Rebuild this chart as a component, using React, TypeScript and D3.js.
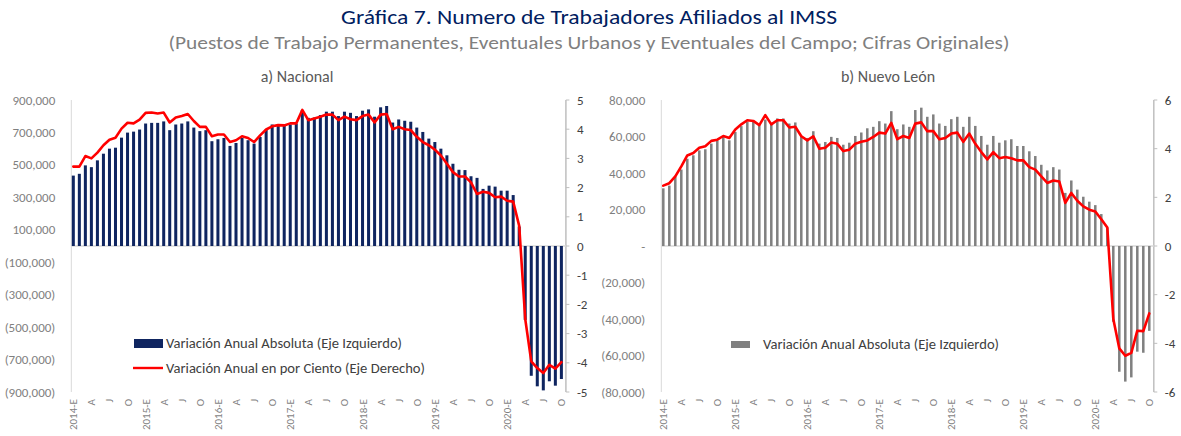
import React from 'react';
import * as d3 from 'd3';

// Meses: 2014-E ... 2020-O
const years = [2014, 2015, 2016, 2017, 2018, 2019, 2020];
const monthCodes = ['E', 'F', 'M', 'A', 'M', 'J', 'J', 'A', 'S', 'O', 'N', 'D'];
const lastMonth2020 = 10;
const tickMonths: Record<number, string> = { 0: 'E', 3: 'A', 6: 'J', 9: 'O' };

// a) Nacional, variación anual absoluta (miles de trabajadores)
const nacionalAbs = [
  434, 445, 497, 486, 528, 569, 600, 606, 668, 699, 705, 718,
  755, 759, 759, 768, 714, 749, 755, 768, 730, 708, 714, 646,
  658, 666, 617, 635, 666, 652, 631, 672, 718, 749, 741, 741,
  749, 755, 838, 790, 792, 807, 828, 828, 801, 828, 821, 801,
  834, 842, 797, 855, 863, 761, 780, 772, 766, 730, 703, 662,
  641, 600, 559, 507, 470, 468, 430, 420, 352, 372, 366, 341,
  341, 314, 120, -456, -800, -865, -890, -834, -861, -820,
];

// a) Nacional, variación anual en por ciento
const nacionalPct = [
  2.72, 2.72, 3.08, 3.0, 3.2, 3.45, 3.64, 3.71, 4.02, 4.22, 4.2, 4.33,
  4.56, 4.57, 4.54, 4.57, 4.23, 4.4, 4.45, 4.52, 4.28, 4.08, 4.08, 3.76,
  3.82, 3.82, 3.56, 3.62, 3.76, 3.7, 3.56, 3.79, 3.99, 4.1, 4.14, 4.13,
  4.2, 4.2, 4.66, 4.31, 4.37, 4.43, 4.5, 4.5, 4.31, 4.43, 4.34, 4.31,
  4.45, 4.5, 4.23, 4.5, 4.52, 4.0, 4.08, 4.0, 3.97, 3.74, 3.56, 3.45,
  3.3, 3.1, 2.82, 2.53, 2.38, 2.38, 2.18, 1.78, 1.86, 1.82, 1.67, 1.69,
  1.55, 1.52, 0.69, -2.5, -3.95, -4.18, -4.35, -4.07, -4.2, -3.98,
];

// b) Nuevo León, variación anual absoluta (miles)
const nlAbs = [
  31.6, 33.1, 38.1, 41.9, 47.8, 49.7, 52.4, 53.0, 56.1, 57.9, 60.3, 57.9,
  62.5, 65.7, 68.0, 68.4, 66.2, 69.3, 67.1, 69.9, 69.9, 67.1, 67.7, 59.8,
  59.2, 62.9, 56.1, 57.0, 59.8, 59.2, 55.5, 56.6, 60.3, 62.2, 64.5, 65.3,
  68.4, 67.1, 73.9, 64.0, 66.6, 65.3, 74.5, 75.8, 70.8, 72.1, 67.1, 65.8,
  69.5, 70.8, 65.3, 70.8, 65.8, 60.3, 55.5, 60.3, 56.6, 57.9, 58.5, 54.8,
  54.8, 51.9, 49.3, 44.5, 41.4, 43.2, 41.9, 29.1, 35.9, 30.9, 27.0, 24.3,
  22.4, 17.5, 10.1, -41.5, -68.9, -74.3, -72.0, -57.9, -58.5, -46.5,
];

// b) Nuevo León, variación anual en por ciento
const nlPct = [
  2.48, 2.58, 2.86, 3.27, 3.72, 3.82, 4.04, 4.1, 4.32, 4.37, 4.52, 4.44,
  4.79, 5.0, 5.17, 5.14, 4.97, 5.38, 5.0, 5.17, 5.17, 4.87, 4.9, 4.51,
  4.34, 4.51, 4.0, 4.04, 4.25, 4.2, 3.9, 3.96, 4.2, 4.28, 4.34, 4.48,
  4.66, 4.62, 5.06, 4.39, 4.52, 4.44, 5.03, 5.08, 4.72, 4.72, 4.39, 4.44,
  4.62, 4.66, 4.28, 4.62, 4.2, 3.86, 3.56, 3.86, 3.61, 3.66, 3.61, 3.52,
  3.52, 3.24, 3.14, 2.86, 2.59, 2.69, 2.65, 1.77, 2.18, 1.86, 1.63, 1.49,
  1.42, 1.1, 0.76, -3.0, -4.21, -4.51, -4.39, -3.48, -3.5, -2.77,
];

const nacionalLeftTicks = [-900000, -700000, -500000, -300000, -100000, 100000, 300000, 500000, 700000, 900000];
const nacionalRightTicks = [-5, -4, -3, -2, -1, 0, 1, 2, 3, 4, 5];
const nlLeftTicks = [-80000, -60000, -40000, -20000, 0, 20000, 40000, 60000, 80000];
const nlRightTicks = [-6, -4, -2, 0, 2, 4, 6];

const FONT = 'Carlito, Calibri, Lato, sans-serif';

const months: { label: string }[] = [];
years.forEach(y => {
  monthCodes.forEach((m, i) => {
    if (y === 2020 && i >= lastMonth2020) return;
    const t = tickMonths[i];
    months.push({ label: t === undefined ? '' : i === 0 ? `${y}-E` : t });
  });
});

const fmtLeft = (v: number) => {
  if (v === 0) return '-';
  const s = d3.format(',')(Math.abs(v));
  return v < 0 ? `(${s})` : s;
};

type PanelProps = {
  title: string;
  titleX: number;
  x0: number;
  x1: number;
  abs: number[];
  absScale: number;
  pct: number[];
  leftDomain: [number, number];
  rightDomain: [number, number];
  leftTicks: number[];
  rightTicks: number[];
  barColor: string;
  padding: number;
  legend: { x: number; y: number; w: number; h: number; textX: number };
  showLineLegend: boolean;
};

const Panel = (p: PanelProps) => {
  const top = 100;
  const bottom = 392;
  const idx = months.map((_, i) => i);
  const x = d3.scaleBand<number>().domain(idx).range([p.x0, p.x1])
    .paddingInner(p.padding).paddingOuter(p.padding / 2);
  const yL = d3.scaleLinear().domain(p.leftDomain).range([bottom, top]);
  const yR = d3.scaleLinear().domain(p.rightDomain).range([bottom, top]);
  const bw = x.bandwidth();
  const line = d3.line<number>()
    .x((_, i) => (x(i) as number) + bw / 2)
    .y(v => yR(v));
  const axisL = p.x0 + 1;
  const axisR = p.x1 + 1.5;

  return (
    <g>
      <text x={p.titleX} y={82} textAnchor="middle" fontSize={16} fill="#595959">{p.title}</text>

      {/* left axis */}
      <line x1={axisL} x2={axisL} y1={top} y2={bottom} stroke="#d9d9d9" strokeWidth={1} />
      {p.leftTicks.map(t => (
        <text key={t} x={axisL - 16} y={yL(t)} dy="0.35em" textAnchor="end"
          fontSize={13} fill="#7f7f7f">{fmtLeft(t)}</text>
      ))}

      {/* right axis */}
      <line x1={axisR} x2={axisR} y1={top} y2={bottom} stroke="#bfbfbf" strokeWidth={1.5} />
      {p.rightTicks.map(t => (
        <g key={t}>
          <line x1={axisR} x2={axisR + 3.5} y1={yR(t)} y2={yR(t)} stroke="#bfbfbf" strokeWidth={1} />
          <text x={axisR + 11} y={yR(t)} dy="0.35em" fontSize={13} fill="#404040">{t}</text>
        </g>
      ))}

      {/* zero line */}
      <line x1={axisL} x2={axisR} y1={yL(0)} y2={yL(0)} stroke="#d9d9d9" strokeWidth={1.5} />

      {/* bars */}
      {p.abs.map((v, i) => {
        const val = v * p.absScale;
        const y0 = yL(0);
        const y1 = yL(val);
        return (
          <rect key={i} x={x(i)} width={bw} y={Math.min(y0, y1)} height={Math.abs(y1 - y0)}
            fill={p.barColor} />
        );
      })}

      {/* line */}
      <path d={line(p.pct) || ''} fill="none" stroke="#ff0000" strokeWidth={2.6}
        strokeLinejoin="round" strokeLinecap="round" />

      {/* x labels */}
      {months.map((m, i) => m.label ? (
        <text key={i} transform={`translate(${(x(i) as number) + bw / 2 + 4},399) rotate(-90)`}
          textAnchor="end" fontSize={11} fill="#7f7f7f">{m.label}</text>
      ) : null)}

      {/* legend */}
      <rect x={p.legend.x} y={p.legend.y} width={p.legend.w} height={p.legend.h} fill={p.barColor} />
      <text x={p.legend.textX} y={p.legend.y + p.legend.h / 2} dy="0.35em" fontSize={14} fill="#404040"
        textLength={236} lengthAdjust="spacingAndGlyphs">
        Variación Anual Absoluta (Eje Izquierdo)
      </text>
      {p.showLineLegend && (
        <g>
          <line x1={p.legend.x - 1} x2={p.legend.x + p.legend.w} y1={368} y2={368} stroke="#ff0000" strokeWidth={2.4} />
          <text x={p.legend.textX} y={368} dy="0.35em" fontSize={14} fill="#404040"
            textLength={259} lengthAdjust="spacingAndGlyphs">
            Variación Anual en por Ciento (Eje Derecho)
          </text>
        </g>
      )}
    </g>
  );
};

export default function App() {
  return (
    <svg width={1181} height={436} style={{ position: 'absolute', left: 0, top: 0, background: '#fff' }}
      fontFamily={FONT}>
      <text x={589} y={24} textAnchor="middle" fontSize={20} fill="#002060" textLength={496}
        lengthAdjust="spacingAndGlyphs">Gráfica 7. Numero de Trabajadores Afiliados al IMSS</text>
      <text x={589} y={49} textAnchor="middle" fontSize={17.5} fill="#7f7f7f" textLength={841}
        lengthAdjust="spacingAndGlyphs">
        (Puestos de Trabajo Permanentes, Eventuales Urbanos y Eventuales del Campo; Cifras Originales)
      </text>
      <Panel
        title="a) Nacional" titleX={297}
        x0={70.3} x1={564.4}
        abs={nacionalAbs} absScale={1000} pct={nacionalPct}
        leftDomain={[-900000, 900000]} rightDomain={[-5, 5]}
        leftTicks={nacionalLeftTicks} rightTicks={nacionalRightTicks}
        barColor="#0f2560" padding={0.5}
        legend={{ x: 134, y: 339, w: 29, h: 9, textX: 166 }}
        showLineLegend={true}
      />
      <Panel
        title="b) Nuevo León" titleX={888}
        x0={660.3} x1={1152.3}
        abs={nlAbs} absScale={1000} pct={nlPct}
        leftDomain={[-80000, 80000]} rightDomain={[-6, 6]}
        leftTicks={nlLeftTicks} rightTicks={nlRightTicks}
        barColor="#808080" padding={0.58}
        legend={{ x: 731, y: 341, w: 19, h: 7, textX: 763 }}
        showLineLegend={false}
      />
    </svg>
  );
}
